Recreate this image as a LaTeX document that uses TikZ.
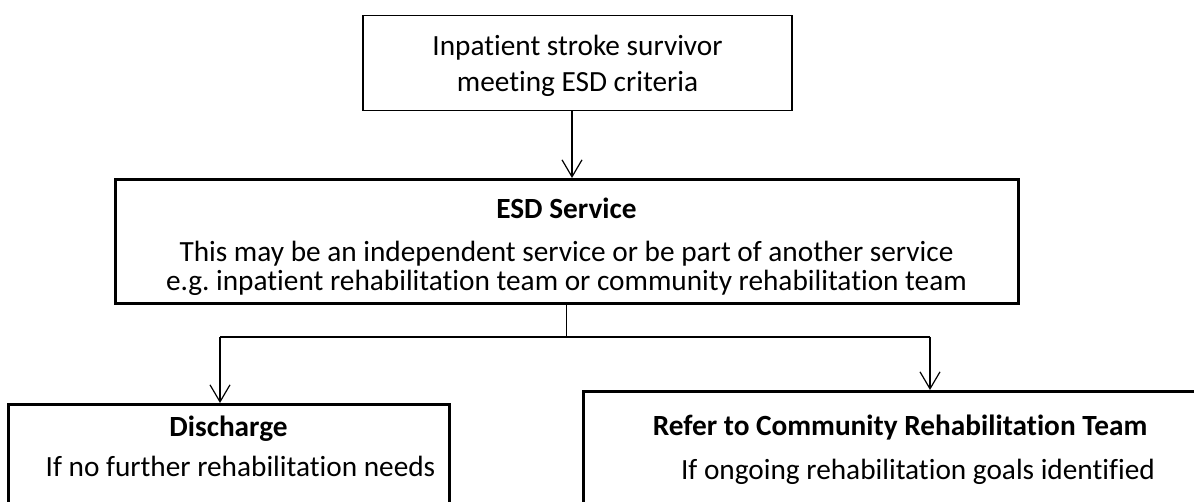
\documentclass[tikz,border=0pt]{standalone}
\usepackage{fontspec}
\setmainfont{Carlito}[Ligatures=NoCommon]
\usetikzlibrary{arrows.meta}
\frenchspacing
\begin{document}
\begin{tikzpicture}[x=1pt,y=-1pt,
  thinbox/.style={draw=black, line width=1.5pt, inner sep=0pt, align=center},
  thickbox/.style={draw=black, line width=3pt, inner sep=0pt, align=center},
  conn/.style={draw=black, line width=1.2pt},
  arr/.style={conn, -{Straight Barb[length=17pt,width=20pt]}},
  every node/.style={font=\fontsize{29.3}{35.7}\selectfont}]
\useasboundingbox (0,0) rectangle (1194,502);
\clip (0,0) rectangle (1194,502);

\node[thinbox, minimum width=429pt, anchor=north] (top) at (577.5,15)
  {\rule{0pt}{40pt}Inpatient stroke survivor\\meeting ESD criteria\rule[-19pt]{0pt}{19pt}};

\node[thickbox, minimum width=903pt, anchor=north] (esd) at (566.5,178)
  {\rule{0pt}{39pt}\textbf{ESD Service}\\[7.3pt]This may be an independent service or be part of another service\\[-6.7pt]e.g. inpatient rehabilitation team or community rehabilitation team\rule[-13pt]{0pt}{13pt}};

\node[thickbox, minimum width=441pt, anchor=north] (dis) at (228.5,403)
  {\rule{0pt}{32pt}\textbf{Discharge}\\[4.3pt]\hspace*{24pt}If no further rehabilitation needs\rule[-90pt]{0pt}{90pt}};

\node[thickbox, minimum width=634pt, anchor=north] (ref) at (900,390)
  {\rule{0pt}{44pt}\textbf{Refer to Community Rehabilitation Team}\\[8.3pt]\hspace*{36pt}If ongoing rehabilitation goals identified\rule[-90pt]{0pt}{90pt}};

\coordinate (jl) at (220,337);
\coordinate (jr) at (930,337);

\draw[arr] ([xshift=-5.5pt]top.south) -- ([xshift=-5.5pt]top.south |- esd.north);
\draw[conn] (esd.south) -- (esd.south |- jl);
\draw[conn] (jl) -- (jr);
\draw[arr] (jl) -- (jl |- dis.north);
\draw[arr] (jr) -- (jr |- ref.north);
\end{tikzpicture}
\end{document}
